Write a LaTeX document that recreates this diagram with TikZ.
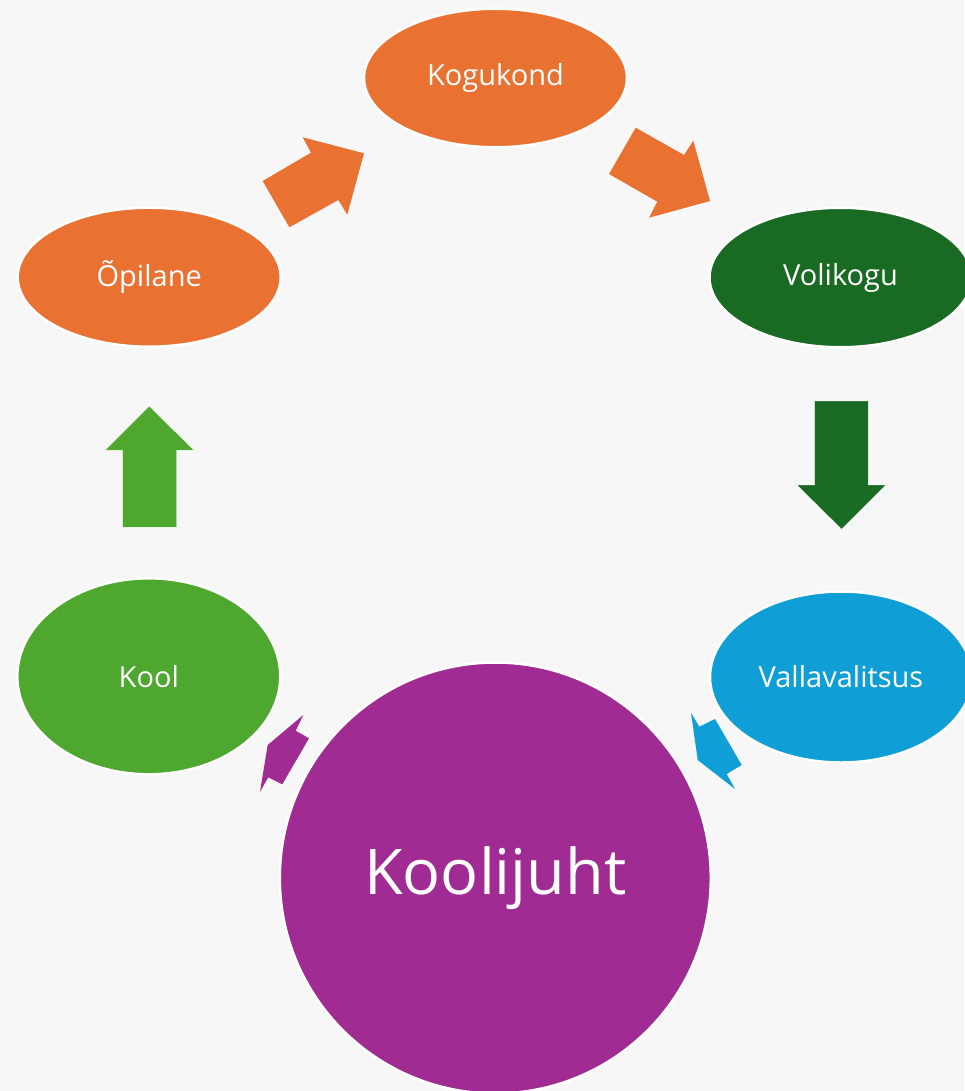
\documentclass[tikz,border=0pt]{standalone}
\usepackage{fontspec}
\setmainfont{Open Sans}
\usetikzlibrary{shapes.geometric}
\definecolor{bgc}{HTML}{F7F7F7}
\definecolor{orangec}{HTML}{E97132}
\definecolor{dgreenc}{HTML}{196B24}
\definecolor{greenc}{HTML}{4EA72E}
\definecolor{bluec}{HTML}{0F9ED5}
\definecolor{purplec}{HTML}{A02B93}
\tikzset{
  oval/.style={ellipse, draw=white, line width=2.5pt, inner sep=0pt,
    minimum width=263pt, minimum height=140pt, text=white,
    font=\fontsize{29}{35}\selectfont},
  blockarrow/.style={draw=white, line width=0.4pt, line join=miter}
}
\begin{document}
\begin{tikzpicture}[x=1pt,y=-1pt]
\fill[bgc] (0,0) rectangle (964,1091);
\useasboundingbox (0,0) rectangle (964,1091);
% block arrows
\filldraw[blockarrow, fill=greenc] (149.3,406) -- (194,450.3) -- (176.7,450.3) -- (176.7,527.3) -- (122.3,527.3) -- (122.3,450.3) -- (105,450.3) -- cycle;
\filldraw[blockarrow, fill=dgreenc] (814.3,401) -- (868.3,401) -- (868.3,485) -- (886,485) -- (841.7,529.3) -- (796.7,485) -- (814.3,485) -- cycle;
\fill[orangec] (289.3,227.3) -- (262.7,181) -- (311,152.7) -- (302.7,137.3) -- (364,153.3) -- (347.3,214.7) -- (338.3,200) -- cycle;
\fill[orangec] (635.7,127.7) -- (684,155) -- (693.3,140.7) -- (710,201) -- (649,217.7) -- (657.3,201.7) -- (609,174) -- cycle;
\fill[purplec] (303.3,715) -- (295.7,730.7) -- (309,738.3) -- (282.3,784.3) -- (268.3,777.3) -- (260,791.7) -- (267.7,745) -- cycle;
\fill[bluec] (691,712.7) -- (699.3,726.7) -- (715,719) -- (741.7,765) -- (726.7,774) -- (735,789) -- (697.7,760) -- cycle;
% nodes
\node[oval, fill=orangec, minimum width=263pt, minimum height=138.5pt] (kogukond) at (495.5,78) {Kogukond};
\node[oval, fill=orangec, minimum width=263pt, minimum height=139pt] (opilane) at (149.2,277.2) {Õpilane};
\node[oval, fill=dgreenc, minimum width=262pt, minimum height=139.5pt] (volikogu) at (840.5,277.5) {Volikogu};
\node[oval, fill=bluec, minimum width=262pt, minimum height=171pt] (valla) at (841,677) {Vallavalitsus};
\node[oval, fill=greenc, minimum width=263pt, minimum height=196pt] (kool) at (148.8,676.3) {Kool};
\node[circle, draw=white, line width=2.5pt, fill=purplec, inner sep=0pt,
  minimum size=431pt, text=white, font=\fontsize{63}{75}\selectfont] (juht) at (495.3,878) {Koolijuht};
\end{tikzpicture}
\end{document}
